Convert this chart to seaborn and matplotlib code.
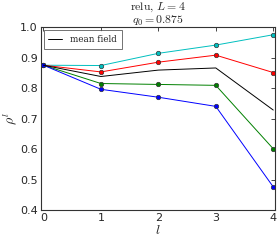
import matplotlib
matplotlib.use("Agg")
import matplotlib.pyplot as plt
import seaborn as sns
import pandas as pd

layers = [0, 1, 2, 3, 4]
cyan_vals = [0.875, 0.874, 0.914, 0.941, 0.975]
red_vals = [0.875, 0.853, 0.885, 0.908, 0.851]
green_vals = [0.875, 0.815, 0.812, 0.809, 0.601]
blue_vals = [0.875, 0.796, 0.770, 0.740, 0.476]
mean_field_vals = [0.875, 0.838, 0.859, 0.866, 0.728]

sns.set_style("white")
plt.rcParams['font.family'] = ['DejaVu Sans']
plt.rcParams['mathtext.fontset'] = 'cm'

fig = plt.figure(figsize=(2.8, 2.42), dpi=100)
ax = fig.add_axes([0.145, 0.132, 0.837, 0.756])

series = [(cyan_vals, 'c'), (red_vals, 'r'), (green_vals, 'g'), (blue_vals, 'b')]
for vals, col in series:
    df = pd.DataFrame({'l': layers, 'rho': vals})
    sns.lineplot(data=df, x='l', y='rho', ax=ax, color=col, marker='o',
                 markersize=3.2, linewidth=0.7, markeredgewidth=0.5,
                 markeredgecolor='#333333', legend=False)

dfm = pd.DataFrame({'l': layers, 'rho': mean_field_vals})
sns.lineplot(data=dfm, x='l', y='rho', ax=ax, color='k', linewidth=0.7,
             label='mean field')

ax.set_xlim(-0.05, 4.03)
ax.set_ylim(0.4, 1.0)
ax.set_xticks([0, 1, 2, 3, 4])
ax.set_yticks([0.4, 0.5, 0.6, 0.7, 0.8, 0.9, 1.0])
ax.tick_params(direction='in', top=True, right=True, length=3, width=0.6,
               labelsize=8, pad=2)
for s in ax.spines.values():
    s.set_linewidth(0.8)
    s.set_color('#333333')
ax.set_xlabel(r'$l$', fontsize=10, labelpad=0)
ax.set_ylabel(r'$\rho^l$', fontsize=10, labelpad=1)
ax.set_title(r'$\mathrm{relu},\, L=4$' + '\n' + r'$q_0=0.875$', fontsize=8.5,
             pad=2, linespacing=1.0)
leg = ax.legend(loc='upper left', fontsize=6.3, frameon=True, fancybox=False,
                handlelength=1.6, handletextpad=0.9, borderpad=0.55,
                borderaxespad=0.35)
leg.get_frame().set_edgecolor('#333333')
leg.get_frame().set_linewidth(0.6)
for t in leg.get_texts():
    t.set_family('serif')
    t.set_color('#222222')

fig.savefig('out.png', dpi=100)
